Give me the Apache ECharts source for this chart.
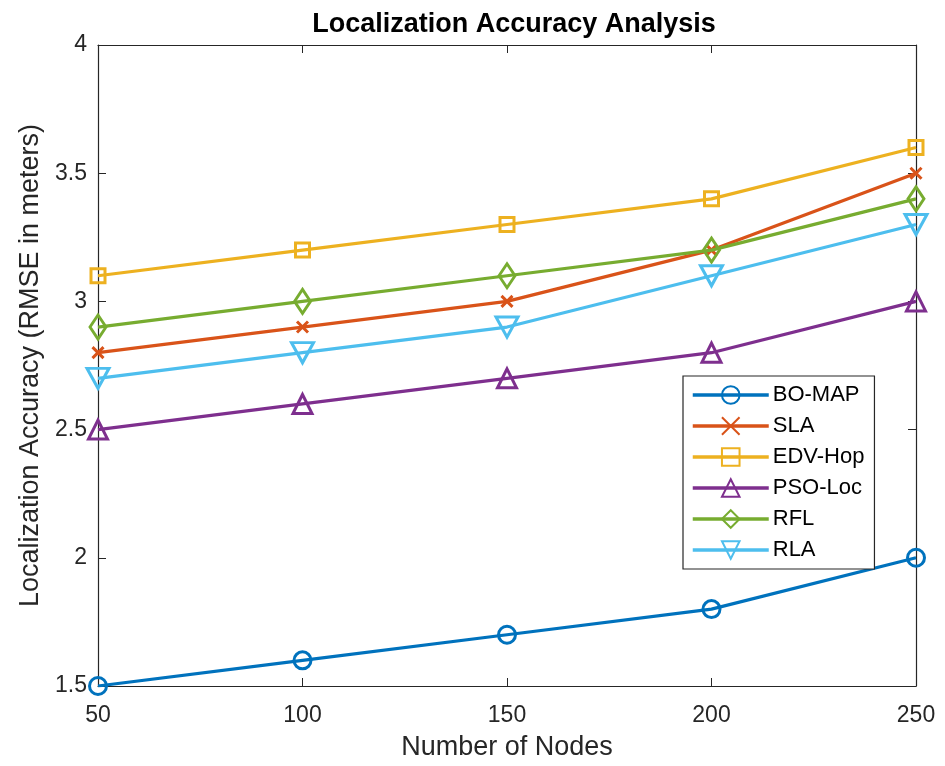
<!DOCTYPE html>
<html><head><meta charset="utf-8">
<script src="https://cdn.jsdelivr.net/npm/echarts@6/dist/echarts.min.js"></script>
<style>html,body{margin:0;padding:0;background:#fff}#c{width:945px;height:766px}</style>
</head><body><div id="c"></div>
<script>
const nodes = [50, 100, 150, 200, 250];
const boMap = [1.5, 1.6, 1.7, 1.8, 2.0];
const sla = [2.8, 2.9, 3.0, 3.2, 3.5];
const edvHop = [3.1, 3.2, 3.3, 3.4, 3.6];
const psoLoc = [2.5, 2.6, 2.7, 2.8, 3.0];
const rfl = [2.9, 3.0, 3.1, 3.2, 3.4];
const rla = [2.7, 2.8, 2.9, 3.1, 3.3];
const names = ['BO-MAP', 'SLA', 'EDV-Hop', 'PSO-Loc', 'RFL', 'RLA'];
const colors = ['#0072BD', '#D95319', '#EDB120', '#7E2F8E', '#77AC30', '#4DBEEE'];

const markers = [
  {symbol: 'circle', size: 17},
  {symbol: 'path://M0,0L10,10M10,0L0,10', size: 11},
  {symbol: 'rect', size: 14},
  {symbol: 'triangle', size: [19, 19]},
  {symbol: 'diamond', size: [16, 24]},
  {symbol: 'path://M0,0L10,0L5,9Z', size: [22, 20]}
];
const data = [boMap, sla, edvHop, psoLoc, rfl, rla];
const font = 'Liberation Sans, Arial, sans-serif';

const series = data.map((arr, i) => ({
  name: names[i],
  type: 'line',
  data: arr.map((v, j) => [nodes[j], v]),
  symbol: markers[i].symbol,
  symbolSize: markers[i].size,
  xAxisIndex: 0, yAxisIndex: 0,
  lineStyle: {color: colors[i], width: 3.2},
  itemStyle: {color: 'rgba(255,255,255,0)', borderColor: colors[i], borderWidth: 3},
  emphasis: {disabled: true},
  z: 3 + i
}));

const chart = echarts.init(document.getElementById('c'), null, {renderer: 'canvas'});
chart.setOption({
  animation: false,
  backgroundColor: '#fff',
  title: {
    text: 'Localization Accuracy Analysis',
    left: 509, top: 6, textAlign: 'center',
    textStyle: {fontFamily: font, fontSize: 27, fontWeight: 'bold', color: '#000'}
  },
  grid: {left: 98, right: 29, top: 45, bottom: 78, containLabel: false},
  legend: {
    orient: 'vertical',
    left: 683, top: 376,
    padding: [8, 10, 8, 8],
    itemGap: 9,
    itemWidth: 76, itemHeight: 22,
    borderColor: '#262626', borderWidth: 1.2, borderRadius: 0,
    backgroundColor: '#fff',
    textStyle: {fontFamily: font, fontSize: 22, color: '#000', padding: [0, 0, 0, -1]},
    lineStyle: {width: 3.5},
    data: names
  },
  xAxis: [{
    type: 'value', min: 50, max: 250, interval: 50,
    name: 'Number of Nodes', nameLocation: 'middle', nameGap: 48,
    nameTextStyle: {fontFamily: font, fontSize: 27, color: '#262626'},
    axisLine: {lineStyle: {color: '#262626', width: 1.2}},
    axisTick: {inside: true, length: 8, lineStyle: {color: '#262626'}},
    axisLabel: {fontFamily: font, fontSize: 23, color: '#262626', margin: 18},
    splitLine: {show: false}
  }, {
    type: 'value', position: 'top', min: 50, max: 250, interval: 50,
    axisLine: {lineStyle: {color: '#262626', width: 1.2}},
    axisTick: {inside: true, length: 8, lineStyle: {color: '#262626'}},
    axisLabel: {show: false}, splitLine: {show: false}
  }],
  yAxis: [{
    type: 'value', min: 1.5, max: 4, interval: 0.5,
    name: 'Localization Accuracy (RMSE in meters)', nameLocation: 'middle', nameGap: 54,
    nameTextStyle: {fontFamily: font, fontSize: 27, color: '#262626'},
    axisLine: {show: true, lineStyle: {color: '#262626', width: 1.2}},
    axisTick: {show: true, inside: true, length: 8, lineStyle: {color: '#262626'}},
    axisLabel: {fontFamily: font, fontSize: 23, color: '#262626', margin: 11,
      formatter: v => String(+v.toFixed(1))},
    splitLine: {show: false}
  }, {
    type: 'value', position: 'right', min: 1.5, max: 4, interval: 0.5,
    axisLine: {show: true, lineStyle: {color: '#262626', width: 1.2}},
    axisTick: {show: true, inside: true, length: 8, lineStyle: {color: '#262626'}},
    axisLabel: {show: false}, splitLine: {show: false}
  }],
  series: series
});
</script>
</body></html>
